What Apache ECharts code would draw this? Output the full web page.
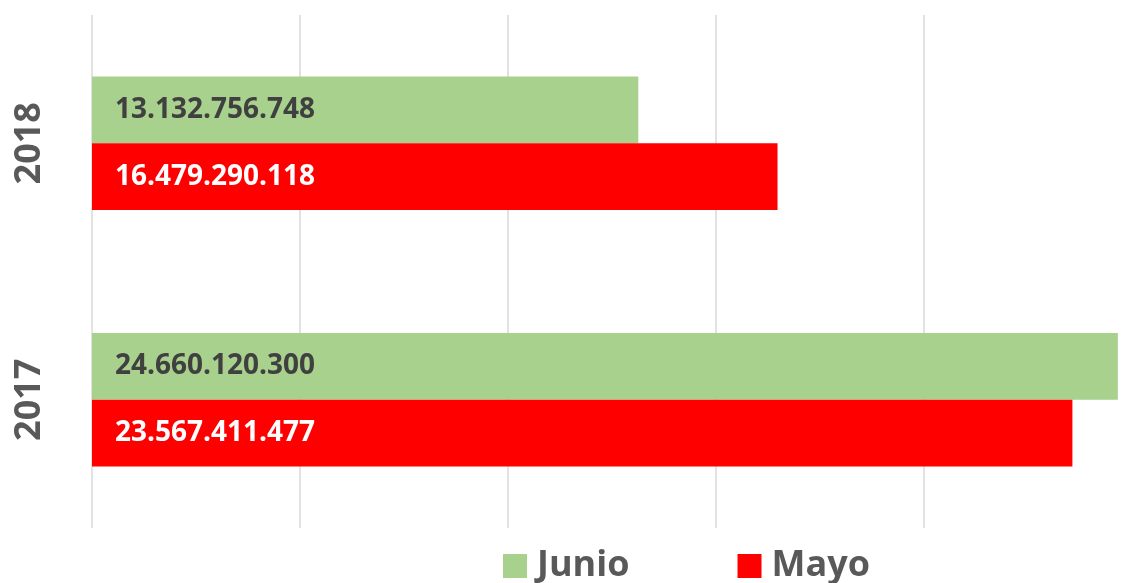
<!DOCTYPE html>
<html>
<head>
<meta charset="utf-8">
<script src="https://cdn.jsdelivr.net/npm/echarts@6/dist/echarts.min.js"></script>
<style>
  html, body { margin: 0; padding: 0; background: #fff; }
  #main { width: 1121px; height: 583px; }
</style>
</head>
<body>
<div id="main"></div>
<script>
  // datos
  var years = ['2017', '2018'];
  var junio = [24660120300, 13132756748];
  var mayo = [23567411477, 16479290118];
  var axisTicks = [0, 5e9, 10e9, 15e9, 20e9, 25e9];

  var fontFamily = '"Open Sans", "Noto Sans", sans-serif';

  // separador de miles con punto
  function fmt(v) {
    return String(v).replace(/\B(?=(\d{3})+(?!\d))/g, '.');
  }

  var myChart = echarts.init(document.getElementById('main'));
  var option = {
    animation: false,
    grid: {
      left: 92,
      right: -11,
      top: 15,
      bottom: 55,
      containLabel: false,
      outerBoundsMode: 'none'
    },
    legend: {
      data: ['Junio', 'Mayo'],
      icon: 'rect',
      itemWidth: 24,
      itemHeight: 24,
      itemGap: 108,
      left: 498,
      top: 543,
      textStyle: {
        fontFamily: fontFamily,
        fontWeight: 'bold',
        fontSize: 36,
        color: '#595959',
        padding: [0, 0, 0, 5]
      }
    },
    xAxis: {
      type: 'value',
      min: axisTicks[0],
      max: axisTicks[axisTicks.length - 1],
      interval: axisTicks[1] - axisTicks[0],
      axisLabel: { show: false },
      axisLine: { show: false },
      axisTick: { show: false },
      splitLine: {
        lineStyle: { color: '#D9D9D9', width: 1.5 }
      }
    },
    yAxis: {
      type: 'category',
      data: years,
      axisLine: { show: false },
      axisTick: { show: false },
      axisLabel: {
        rotate: 90,
        margin: 44,
        fontFamily: fontFamily,
        fontWeight: 'bold',
        fontSize: 36,
        color: '#595959'
      }
    },
    series: [
      {
        name: 'Junio',
        type: 'bar',
        data: junio,
        barGap: '0%',
        barCategoryGap: '48%',
        itemStyle: { color: '#A9D18E' },
        label: {
          show: true,
          position: 'insideLeft',
          distance: 23,
          formatter: function (p) { return fmt(p.value); },
          fontFamily: fontFamily,
          fontWeight: 'bold',
          fontSize: 28,
          color: '#404040'
        }
      },
      {
        name: 'Mayo',
        type: 'bar',
        data: mayo,
        barGap: '0%',
        barCategoryGap: '48%',
        itemStyle: { color: '#FF0000' },
        label: {
          show: true,
          position: 'insideLeft',
          distance: 23,
          formatter: function (p) { return fmt(p.value); },
          fontFamily: fontFamily,
          fontWeight: 'bold',
          fontSize: 28,
          color: '#FFFFFF'
        }
      }
    ]
  };
  myChart.setOption(option);
</script>
</body>
</html>
